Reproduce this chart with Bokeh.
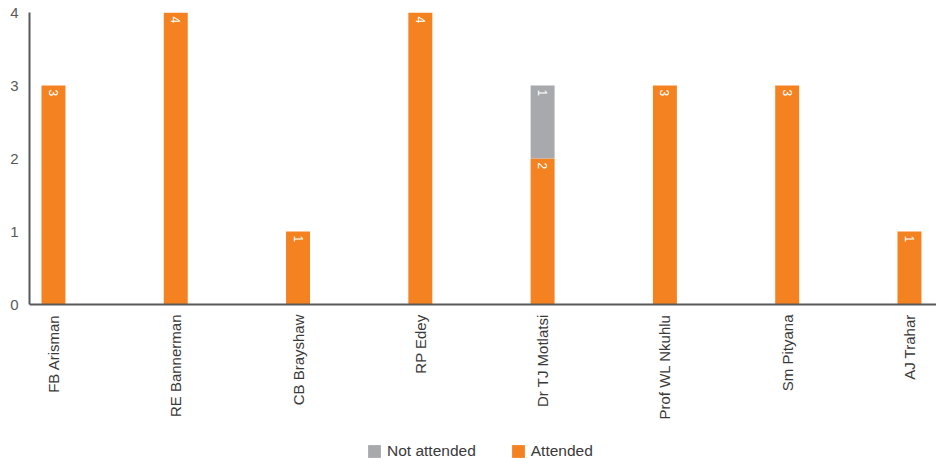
import math
from bokeh.plotting import figure
from bokeh.models import (ColumnDataSource, Range1d, FixedTicker, Legend, LegendItem)
from bokeh.core.properties import value
from bokeh.embed import file_html
from bokeh.resources import INLINE

names = ["FB Arisman", "RE Bannerman", "CB Brayshaw", "RP Edey",
         "Dr TJ Motlatsi", "Prof WL Nkuhlu", "Sm Pityana", "AJ Trahar"]
attended = [3, 4, 1, 4, 2, 3, 3, 1]
not_attended = [0, 0, 0, 0, 1, 0, 0, 0]
y_ticks = [0, 1, 2, 3, 4]

ORANGE = "#F58220"
GREY = "#A7A9AC"
TEXT = "#58595B"
FONT = "Liberation Sans"

xs = list(range(len(names)))
src = ColumnDataSource(dict(x=xs, attended=attended, not_attended=not_attended))

# frame spans the full lower area so the legend can sit inside it;
# the x axis is pinned at y=0
p = figure(frame_width=907, frame_height=451, output_backend="svg",
           toolbar_location=None,
           x_range=Range1d(-0.196, 7.221), y_range=Range1d(-2.178, 4),
           min_border_left=29, min_border_right=0, min_border_top=12,
           min_border_bottom=0)
p.outline_line_color = None
p.xgrid.visible = False
p.ygrid.visible = False
p.background_fill_color = "white"
p.border_fill_color = "white"

rs = p.vbar_stack(["attended", "not_attended"], x="x", width=0.196, source=src,
                  color=[ORANGE, GREY], line_color=None)

# value labels
lx, ly, lt = [], [], []
for i in xs:
    if attended[i] > 0:
        lx.append(i); ly.append(attended[i]); lt.append(str(attended[i]))
    if not_attended[i] > 0:
        lx.append(i); ly.append(attended[i] + not_attended[i]); lt.append(str(not_attended[i]))
lsrc = ColumnDataSource(dict(x=lx, y=ly, t=lt))
p.text(x="x", y="y", text="t", source=lsrc, angle=-math.pi / 2,
       text_align="left", text_baseline="middle", y_offset=4,
       text_color="white", text_font=value(FONT), text_font_size="12px")

# axes
p.xaxis.fixed_location = 0
p.xaxis.ticker = FixedTicker(ticks=xs)
p.xaxis.major_label_overrides = {i: n for i, n in enumerate(names)}
p.xaxis.major_label_orientation = math.pi / 2
p.xaxis.major_tick_line_color = None
p.xaxis.minor_tick_line_color = None
p.xaxis.axis_line_color = TEXT
p.xaxis.axis_line_width = 2
p.xaxis.major_label_standoff = 4
p.xaxis.major_label_text_font = FONT
p.xaxis.major_label_text_font_size = "15px"
p.xaxis.major_label_text_color = "#3a3a3a"

p.yaxis.ticker = FixedTicker(ticks=y_ticks)
p.yaxis.bounds = (0, 4)
p.yaxis.major_tick_line_color = None
p.yaxis.minor_tick_line_color = None
p.yaxis.axis_line_color = TEXT
p.yaxis.axis_line_width = 2
p.yaxis.major_label_standoff = 5
p.yaxis.major_label_text_font = FONT
p.yaxis.major_label_text_font_size = "15px"
p.yaxis.major_label_text_color = TEXT

legend = Legend(items=[LegendItem(label="Not attended", renderers=[rs[1]]),
                       LegendItem(label="Attended", renderers=[rs[0]])],
                location=(337, 3), orientation="horizontal",
                padding=0, margin=0, spacing=34, label_standoff=5,
                glyph_width=16, glyph_height=16, label_height=16,
                border_line_color=None, background_fill_alpha=0,
                label_text_font=FONT, label_text_font_size="15.5px",
                label_text_color="#3a3a3a")
p.add_layout(legend, "center")

open("out.html", "w").write(file_html(p, INLINE))
